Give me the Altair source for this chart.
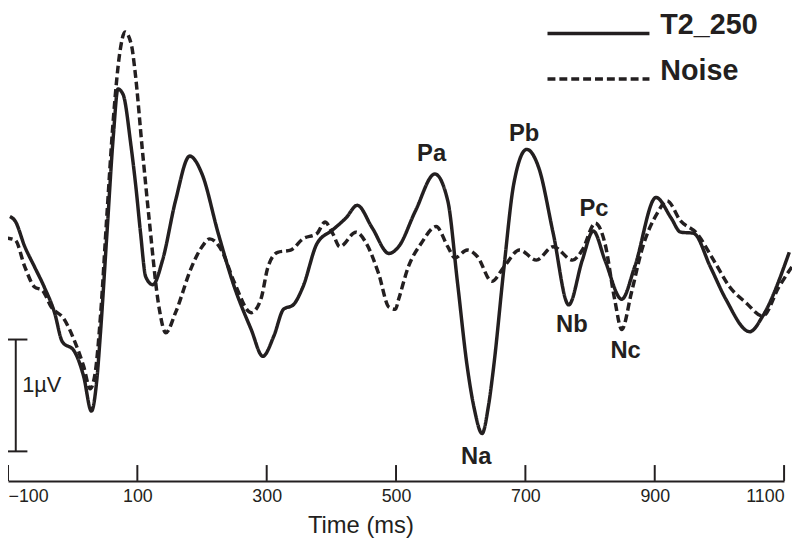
import altair as alt
import pandas as pd

# ---------------- data ----------------
series_names = ["T2_250", "Noise"]
time_ticks = [-100, 100, 300, 500, 700, 900, 1100]

t2_time = [-97, -89, -74, -59, -44, -28, -16, 2, 17, 29, 37, 43, 53, 63, 70, 78, 90, 98,
           105, 113, 124, 139, 159, 181, 200, 225, 250, 276, 294, 311, 326, 341, 356, 378,
           402, 423, 440, 463, 489, 504, 530, 560, 580, 595, 610, 621, 633, 643, 651, 667,
           682, 702, 721, 743, 767, 788, 805, 823, 849, 869, 902, 925, 940, 960, 986, 1010,
           1047, 1067, 1108]
t2_uv = [0.39, 0.35, 0.12, -0.06, -0.24, -0.47, -0.73, -0.81, -1.04, -1.35, -1.09, -0.65,
         0.24, 1.12, 1.53, 1.48, 1.03, 0.64, 0.24, -0.15, -0.22, 0.00, 0.53, 0.93, 0.77,
         0.24, -0.24, -0.62, -0.86, -0.68, -0.44, -0.40, -0.24, 0.15, 0.27, 0.38, 0.49,
         0.29, 0.06, 0.12, 0.44, 0.77, 0.53, -0.20, -0.95, -1.33, -1.55, -1.30, -0.95,
         -0.06, 0.68, 0.99, 0.82, 0.24, -0.40, 0.00, 0.26, 0.00, -0.35, -0.06, 0.56, 0.38,
         0.25, 0.24, -0.06, -0.35, -0.64, -0.50, 0.07]

noise_time = [-105, -89, -74, -59, -47, -33, -13, 2, 17, 27, 35, 43, 53, 63, 73, 81, 91, 96,
              108, 118, 134, 144, 159, 184, 200, 212, 230, 250, 276, 291, 302, 317, 337, 356,
              378, 390, 402, 413, 438, 454, 473, 489, 499, 504, 519, 539, 562, 580, 591, 610,
              626, 648, 667, 691, 717, 743, 773, 788, 808, 823, 838, 849, 864, 880, 904, 919,
              940, 965, 991, 1016, 1041, 1067, 1092, 1112]
noise_uv = [0.20, 0.18, -0.06, -0.24, -0.27, -0.42, -0.53, -0.71, -0.95, -1.15, -1.00, -0.50,
            0.41, 1.27, 1.86, 2.04, 1.92, 1.71, 0.97, 0.38, -0.44, -0.65, -0.47, -0.06, 0.12,
            0.19, 0.09, -0.20, -0.47, -0.35, -0.06, 0.07, 0.09, 0.19, 0.24, 0.34, 0.24, 0.12,
            0.25, 0.15, -0.12, -0.42, -0.44, -0.35, -0.06, 0.15, 0.30, 0.12, 0.02, 0.09, 0.03,
            -0.19, -0.06, 0.09, 0.00, 0.12, 0.00, 0.09, 0.33, 0.15, -0.35, -0.62, -0.29, 0.09,
            0.42, 0.53, 0.35, 0.24, 0.00, -0.24, -0.38, -0.50, -0.24, -0.06]

peak_names = ["Pa", "Na", "Pb", "Nb", "Pc", "Nc"]
peak_time = [555, 624, 698, 772, 806, 855]
peak_uv = [0.95, -1.76, 1.13, -0.58, 0.46, -0.81]

scalebar_time = [-88]
scalebar_cap_from = [-100]
scalebar_cap_to = [-70]
scalebar_top = -0.71
scalebar_len = 1.0
scalebar_text = ["1µV"]
scalebar_text_time = [-78]
scalebar_text_uv = [-1.115]

# ---------------- styling ----------------
INK = "#231f20"
REG = "Liberation Sans, Arial, sans-serif"
W, H = 784, 475
Y_DOMAIN = [-1.974, 2.230]

xscale = alt.Scale(domain=[-100, 1100], nice=False, zero=False)
yscale = alt.Scale(domain=Y_DOMAIN, nice=False, zero=False)
dash_scale = alt.Scale(domain=series_names, range=[[1, 0], [8, 4]])

lines_df = pd.concat([
    pd.DataFrame({"t": t2_time, "uv": t2_uv, "series": "T2_250"}),
    pd.DataFrame({"t": noise_time, "uv": noise_uv, "series": "Noise"}),
], ignore_index=True)

x_axis = alt.Axis(values=time_ticks, format="d", ticks=False, grid=False, domainColor=INK,
                  domainWidth=2, labelFlush=True, labelFontSize=18, labelFont=REG,
                  labelColor=INK, labelPadding=7, title="Time (ms)", titleFont=REG,
                  titleFontSize=24, titleFontWeight="normal", titleColor=INK, titleX=356,
                  titleY=52, titleBaseline="alphabetic", titleAlign="center")


def X(field):
    return alt.X(field, scale=xscale, axis=x_axis, title="Time (ms)")


def Y(field):
    return alt.Y(field, scale=yscale, axis=None)


lines = alt.Chart(lines_df).mark_line(
    color=INK, strokeWidth=3.5, interpolate="monotone", strokeCap="butt"
).encode(
    x=X("t:Q"),
    y=Y("uv:Q"),
    strokeDash=alt.StrokeDash("series:N", scale=dash_scale, legend=None),
    detail="series:N",
)

ticks = alt.Chart(pd.DataFrame({"t": time_ticks})).mark_rule(color=INK, strokeWidth=2).encode(
    x=X("t:Q"),
    y=alt.value(H - 16), y2=alt.value(H),
)

peaks_df = pd.DataFrame({"name": peak_names, "t": peak_time, "uv": peak_uv})
peaks = alt.Chart(peaks_df).mark_text(
    font=REG, fontSize=24, fontWeight="bold", color=INK, align="center", baseline="middle"
).encode(
    x=X("t:Q"),
    y=Y("uv:Q"),
    text="name:N",
)

bar_df = pd.DataFrame({"t": scalebar_time, "top": [scalebar_top],
                       "bottom": [scalebar_top - scalebar_len]})
bar = alt.Chart(bar_df).mark_rule(color=INK, strokeWidth=2).encode(
    x=X("t:Q"),
    y=Y("top:Q"), y2="bottom:Q",
)
caps_df = pd.DataFrame({"t": scalebar_cap_from * 2, "t1": scalebar_cap_to * 2,
                        "uv": [scalebar_top, scalebar_top - scalebar_len]})
caps = alt.Chart(caps_df).mark_rule(color=INK, strokeWidth=2).encode(
    x=X("t:Q"), x2="t1:Q",
    y=Y("uv:Q"),
)
bar_text = alt.Chart(pd.DataFrame({"label": scalebar_text, "t": scalebar_text_time,
                                   "uv": scalebar_text_uv})).mark_text(
    font=REG, fontSize=22, color=INK, align="left", baseline="middle"
).encode(
    x=X("t:Q"),
    y=Y("uv:Q"),
    text="label:N",
)

legend_layers = []
for name, ly in zip(series_names, [23, 69]):
    ldf = pd.DataFrame({"series": [name]})
    legend_layers.append(alt.Chart(ldf).mark_rule(strokeWidth=3.5, color=INK, strokeCap="butt").encode(
        x=alt.value(545), x2=alt.value(648), y=alt.value(ly),
        strokeDash=alt.StrokeDash("series:N", scale=dash_scale, legend=None),
    ))
    legend_layers.append(alt.Chart(ldf).mark_text(
        font=REG, fontSize=29, fontWeight="bold", color=INK, align="left", baseline="alphabetic"
    ).encode(x=alt.value(659), y=alt.value(ly + 1), text="series:N"))

chart = alt.layer(lines, ticks, peaks, bar, caps, bar_text, *legend_layers).properties(
    width=W, height=H,
    autosize=alt.AutoSizeParams(type="none"),
    padding={"left": 0, "top": 0, "right": 8, "bottom": 59},
    background="white",
).configure_view(stroke=None)

chart.save("out.html", embed_options={"renderer": "svg", "actions": False})
